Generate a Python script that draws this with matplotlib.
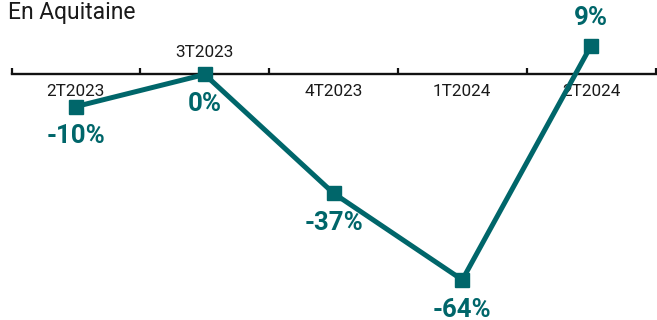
import matplotlib.pyplot as plt

quarters = ['2T2023', '3T2023', '4T2023', '1T2024', '2T2024']
variation = [-10, 0, -37, -64, 9]

teal = '#00666A'
plt.rcParams['font.family'] = ['Roboto', 'DejaVu Sans']

fig = plt.figure(figsize=(6.57, 3.2), dpi=100)
ax = fig.add_axes([11.5 / 657, 0, 644 / 657, 1])
x = list(range(len(quarters)))

ax.set_xlim(-0.5, len(quarters) - 0.5)
ax.set_ylim(-76.5, 23.2)

for s in ['top', 'right', 'left']:
    ax.spines[s].set_visible(False)
ax.spines['bottom'].set_position(('data', 0))
ax.spines['bottom'].set_linewidth(1.7)
ax.spines['bottom'].set_color('#111111')
ax.set_yticks([])
ax.set_xticks([i - 0.5 for i in range(len(quarters) + 1)])
ax.tick_params(axis='x', direction='in', length=4.5, width=1.6, color='#111111', labelbottom=False)

ax.plot(x, variation, color=teal, lw=3.6, marker='s', ms=10, zorder=5, clip_on=False)

for i, (q, v) in enumerate(zip(quarters, variation)):
    # quarter label sits above the axis when the point itself lies on it
    dy = 16 if v == 0 else -12
    ax.annotate(q, (i, 0), xytext=(0, dy), textcoords='offset points',
                ha='center', va='center', fontsize=12.3, color='#1a1a1a')
    off = 20 if v > 0 else -21.5
    ax.annotate(f'{v}%', (i, v), xytext=(0, off), textcoords='offset points',
                ha='center', va='center', fontsize=18.5, fontweight='bold', color=teal)

fig.text(8 / 657, 1 - 1 / 320, 'En Aquitaine', ha='left', va='top', fontsize=16.5, color='#1a1a1a')

fig.savefig('out.png', dpi=100)
